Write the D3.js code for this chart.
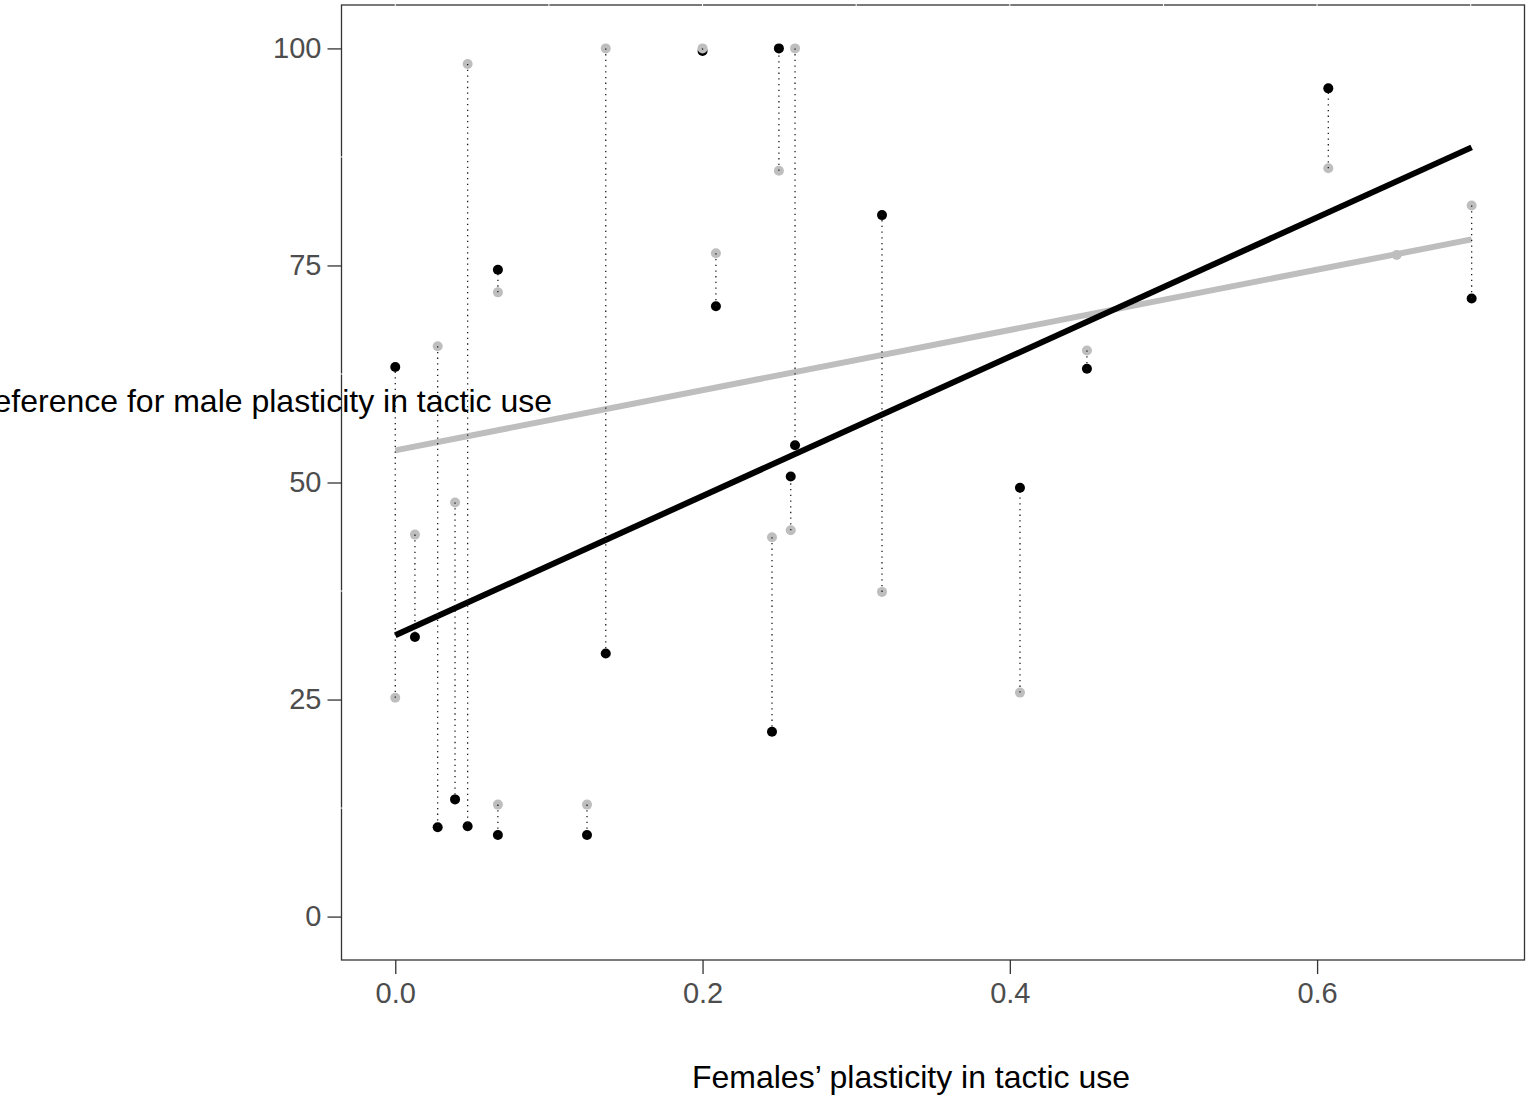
<!DOCTYPE html>
<html>
<head>
<meta charset="utf-8">
<script src="https://cdn.jsdelivr.net/npm/d3@7"></script>
<style>
  html, body { margin: 0; padding: 0; background: #ffffff; }
  svg { display: block; }
</style>
</head>
<body>
<svg id="chart" width="1537" height="1097"></svg>
<script>
// ---- data ----
const xValues = [0, 0.0128, 0.0276, 0.0389, 0.0471, 0.0668, 0.0668, 0.1248, 0.137, 0.2, 0.2087, 0.2452, 0.2497, 0.2574, 0.2602, 0.3168, 0.4066, 0.4502, 0.6073, 0.6518, 0.7006];
const blackValues = [63.3, 32.2, 10.3, 13.5, 10.4, 74.5, 9.4, 9.4, 30.3, 99.7, 70.3, 21.3, 100, 50.7, 54.3, 80.8, 49.4, 63.1, 95.4, null, 71.2];
const grayValues = [25.2, 44.0, 65.7, 47.7, 98.2, 71.9, 12.9, 12.9, 100, 100, 76.4, 43.7, 85.9, 44.5, 100, 37.4, 25.8, 65.2, 86.2, 76.2, 81.9];
const fitX = [0, 0.7006];
const blackFit = [32.4, 88.6];
const grayFit = [53.7, 78.0];
const xTicks = [0, 0.2, 0.4, 0.6];
const xTickLabels = ["0.0", "0.2", "0.4", "0.6"];
const yTicks = [0, 25, 50, 75, 100];
const yTickLabels = ["0", "25", "50", "75", "100"];
const xGrid = [0, 0.1, 0.2, 0.3, 0.4, 0.5, 0.6, 0.7];
const yMinorGrid = [12.5, 37.5, 62.5, 87.5];
const xTitle = "Females\u2019 plasticity in tactic use";
const yTitle = "Preference for male plasticity in tactic use";

// ---- layout ----
const panel = { left: 341.5, top: 5, right: 1524.5, bottom: 960 };
const svg = d3.select("#chart");
const font = "'Liberation Sans', Arial, sans-serif";

const x = d3.scaleLinear().domain([-0.035, 0.735]).range([panel.left, panel.right]);
const y = d3.scaleLinear().domain([-5, 105]).range([panel.bottom, panel.top]);

// panel background
svg.append("rect")
  .attr("x", panel.left).attr("y", panel.top)
  .attr("width", panel.right - panel.left).attr("height", panel.bottom - panel.top)
  .attr("fill", "#ffffff");

// regression lines
const line = d3.line().x(d => x(d[0])).y(d => y(d[1]));
svg.append("path")
  .attr("d", line(fitX.map((v, i) => [v, grayFit[i]])))
  .attr("fill", "none").attr("stroke", "#bebebe").attr("stroke-width", 6);
svg.append("path")
  .attr("d", line(fitX.map((v, i) => [v, blackFit[i]])))
  .attr("fill", "none").attr("stroke", "#000000").attr("stroke-width", 6);

// points
const pts = xValues.map((v, i) => ({ x: v, b: blackValues[i], g: grayValues[i] }));
svg.append("g").selectAll("circle")
  .data(pts.filter(d => d.b !== null))
  .join("circle")
  .attr("cx", d => x(d.x)).attr("cy", d => y(d.b)).attr("r", 5)
  .attr("fill", "#000000");
svg.append("g").selectAll("circle")
  .data(pts.filter(d => d.g !== null))
  .join("circle")
  .attr("cx", d => x(d.x)).attr("cy", d => y(d.g)).attr("r", 5)
  .attr("fill", "#bebebe");

// dotted segments
svg.append("g").selectAll("line")
  .data(pts.filter(d => d.b !== null && d.g !== null))
  .join("line")
  .attr("x1", d => x(d.x)).attr("x2", d => x(d.x))
  .attr("y1", d => y(d.g)).attr("y2", d => y(d.b))
  .attr("stroke", "#1a1a1a").attr("stroke-width", 1.3)
  .attr("stroke-dasharray", "1.3,4.4");

// panel border
svg.append("rect")
  .attr("x", panel.left).attr("y", panel.top)
  .attr("width", panel.right - panel.left).attr("height", panel.bottom - panel.top)
  .attr("fill", "none").attr("stroke", "#333333").attr("stroke-width", 1.3);

// tiny white gridline stubs crossing the border
svg.append("g").selectAll("line")
  .data(xGrid).join("line")
  .attr("x1", d => x(d)).attr("x2", d => x(d))
  .attr("y1", panel.top - 2).attr("y2", panel.top + 2)
  .attr("stroke", "#ffffff").attr("stroke-width", 1);
svg.append("g").selectAll("line")
  .data(yMinorGrid).join("line")
  .attr("y1", d => y(d)).attr("y2", d => y(d))
  .attr("x1", panel.left - 2).attr("x2", panel.left + 2)
  .attr("stroke", "#ffffff").attr("stroke-width", 1);

// axes
const xAxis = d3.axisBottom(x).tickValues(xTicks)
  .tickFormat((d, i) => xTickLabels[i]).tickSize(14).tickPadding(8);
const gx = svg.append("g").attr("transform", `translate(0,${panel.bottom})`).call(xAxis);
gx.select(".domain").remove();
gx.selectAll(".tick line").attr("stroke", "#333333").attr("stroke-width", 1.3);
gx.selectAll(".tick text").attr("fill", "#4d4d4d")
  .style("font-family", font).style("font-size", "29px");

const yAxis = d3.axisLeft(y).tickValues(yTicks)
  .tickFormat((d, i) => yTickLabels[i]).tickSize(14).tickPadding(6);
const gy = svg.append("g").attr("transform", `translate(${panel.left},0)`).call(yAxis);
gy.select(".domain").remove();
gy.selectAll(".tick line").attr("stroke", "#333333").attr("stroke-width", 1.3);
gy.selectAll(".tick text").attr("fill", "#4d4d4d")
  .style("font-family", font).style("font-size", "29px");

// axis titles
svg.append("text")
  .attr("x", (panel.left + panel.right) / 2 - 22).attr("y", 1088)
  .attr("text-anchor", "middle")
  .style("font-family", font).style("font-size", "32px").attr("fill", "#000000")
  .text(xTitle);
svg.append("text")
  .attr("x", 552).attr("y", 412)
  .attr("text-anchor", "end")
  .style("font-family", font).style("font-size", "32px").attr("fill", "#000000")
  .text(yTitle);
</script>
</body>
</html>
